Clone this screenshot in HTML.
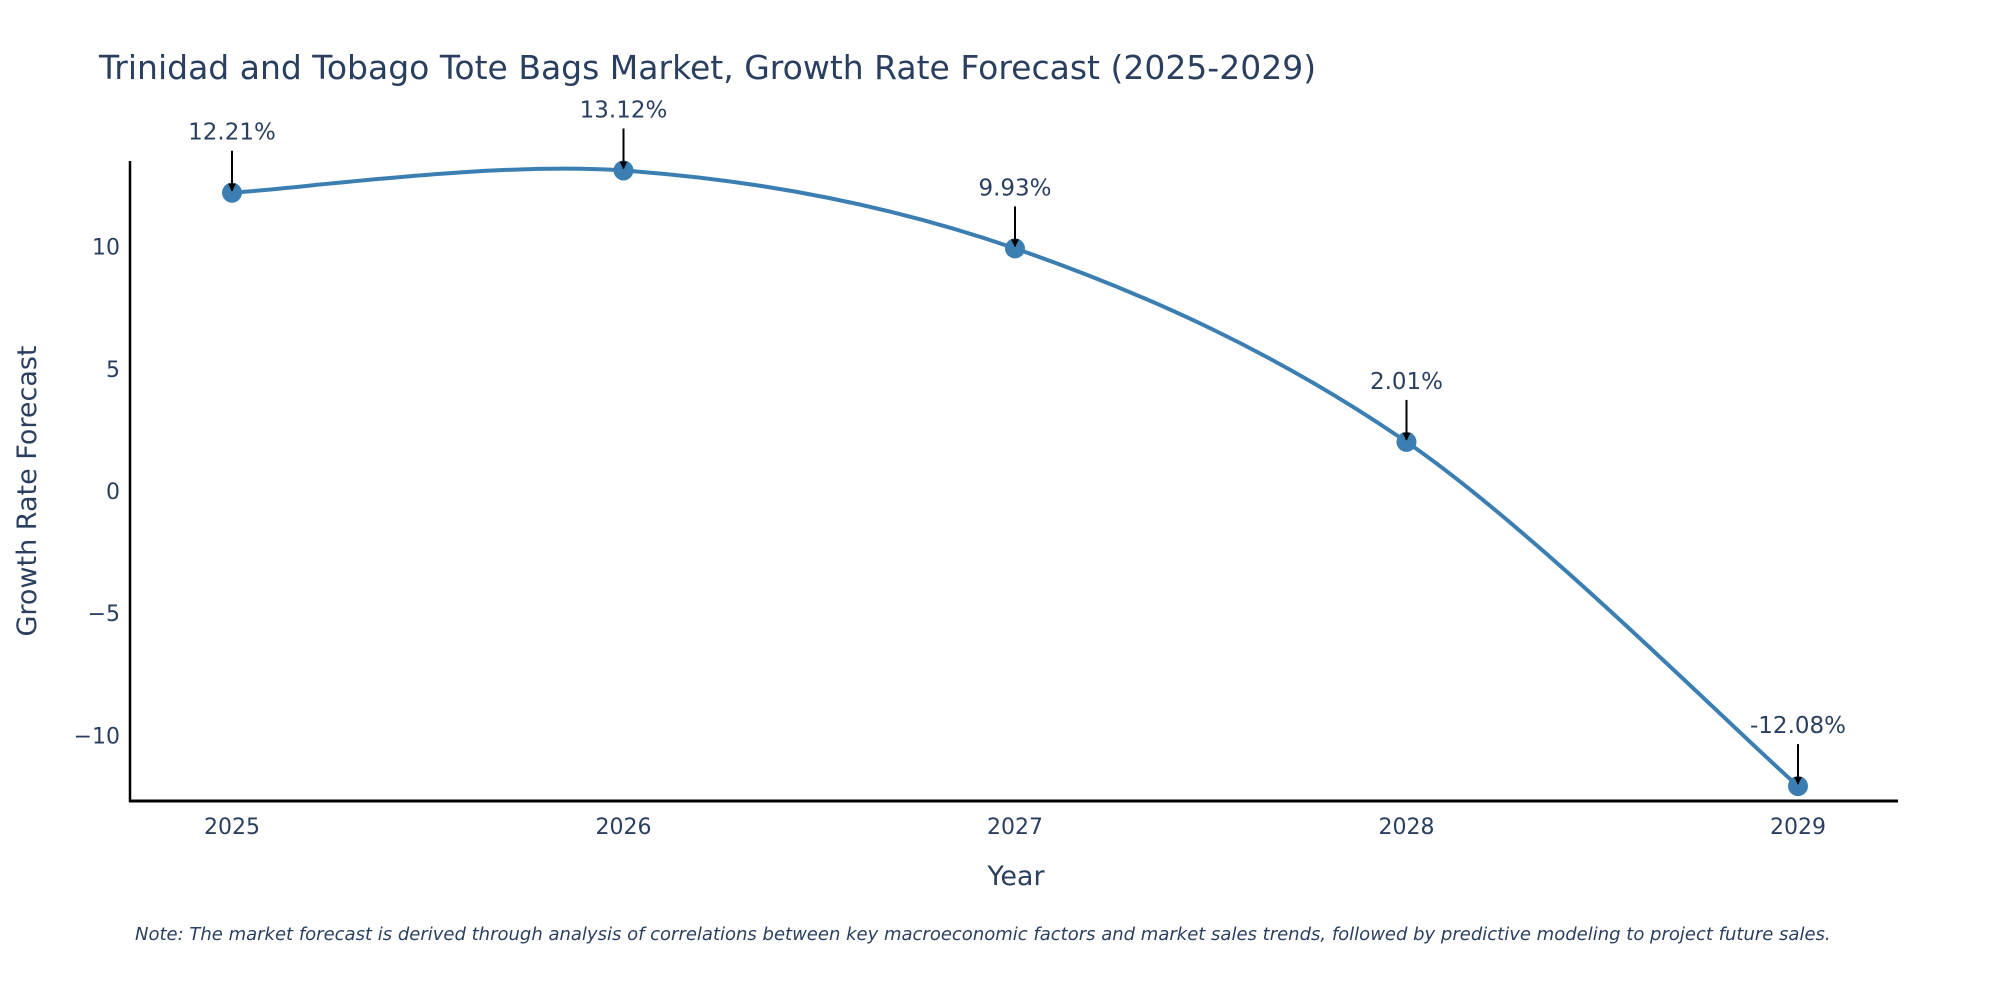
<!DOCTYPE html>
<html><head><meta charset="utf-8"><style>
body{margin:0;background:#fff;}
svg text{font-family:"DejaVu Sans","Liberation Sans",sans-serif;fill:#2a3f5f;}
</style></head><body>
<svg id="chart" width="2000" height="1000" viewBox="0 0 2000 1000" xmlns="http://www.w3.org/2000/svg">
<defs><marker id="ah" viewBox="0 0 10 10" refX="9" refY="5" markerWidth="4" markerHeight="4" markerUnits="strokeWidth" orient="auto"><path d="M0,0 L10,5 L0,10 z" fill="#000"/></marker></defs>
<text x="99" y="79" font-size="33">Trinidad and Tobago Tote Bags Market, Growth Rate Forecast (2025-2029)</text>
<g id="yticks"></g>
<g id="xticks"></g>
<line x1="130" y1="161" x2="130" y2="802" stroke="#000" stroke-width="2.5"/>
<line x1="129" y1="801" x2="1898" y2="801" stroke="#000" stroke-width="3"/>
<path id="line" fill="none" stroke="#3b7fb2" stroke-width="4"/>
<g id="points"></g>
<text x="1016" y="885" font-size="27" text-anchor="middle">Year</text>
<text transform="translate(36,491) rotate(-90)" font-size="27" text-anchor="middle">Growth Rate Forecast</text>
<text x="135" y="940" font-size="18" font-style="italic">Note: The market forecast is derived through analysis of correlations between key macroeconomic factors and market sales trends, followed by predictive modeling to project future sales.</text>
</svg>
<script>
const years=[2025,2026,2027,2028,2029];
const values=[12.21,13.12,9.93,2.01,-12.08];
const labels=["12.21%","13.12%","9.93%","2.01%","-12.08%"];
const yTicks=[10,5,0,-5,-10];
const yTickLabels=["10","5","0","\u22125","\u221210"];
const NS="http://www.w3.org/2000/svg";
const xs=y=>232+(y-2025)*391.5;
const ys=v=>491-v*24.43;
function mk(t,a,p){const e=document.createElementNS(NS,t);for(const k in a)e.setAttribute(k,a[k]);p.appendChild(e);return e;}
const yt=document.getElementById('yticks');
yTicks.forEach((t,i)=>{const e=mk('text',{x:120,y:ys(t)+8,'font-size':22,'text-anchor':'end'},yt);e.textContent=yTickLabels[i];

});
const xt=document.getElementById('xticks');
years.forEach(y=>{const e=mk('text',{x:xs(y),y:834,'font-size':22,'text-anchor':'middle'},xt);e.textContent=y;

});
const P=years.map((y,i)=>[xs(y),ys(values[i])]);
let d='M'+P[0][0]+','+P[0][1];const s=1/6;
for(let i=0;i<P.length-1;i++){const p0=P[Math.max(i-1,0)],p1=P[i],p2=P[i+1],p3=P[Math.min(i+2,P.length-1)];
const c1=[p1[0]+(p2[0]-p0[0])*s,p1[1]+(p2[1]-p0[1])*s],c2=[p2[0]-(p3[0]-p1[0])*s,p2[1]-(p3[1]-p1[1])*s];
d+=` C${c1[0]},${c1[1]} ${c2[0]},${c2[1]} ${p2[0]},${p2[1]}`;}
document.getElementById('line').setAttribute('d',d);
const pg=document.getElementById('points');
P.forEach((p,i)=>{const c=mk('circle',{cx:p[0],cy:p[1],r:10,fill:'#3b7fb2'},pg);


const l=mk('line',{x1:p[0],y1:p[1]-42,x2:p[0],y2:p[1]-2,stroke:'#000','stroke-width':2,'marker-end':'url(#ah)'},pg);


const t=mk('text',{x:p[0],y:p[1]-53,'font-size':23,'text-anchor':'middle'},pg);t.textContent=labels[i];

});
</script>
</body></html>
